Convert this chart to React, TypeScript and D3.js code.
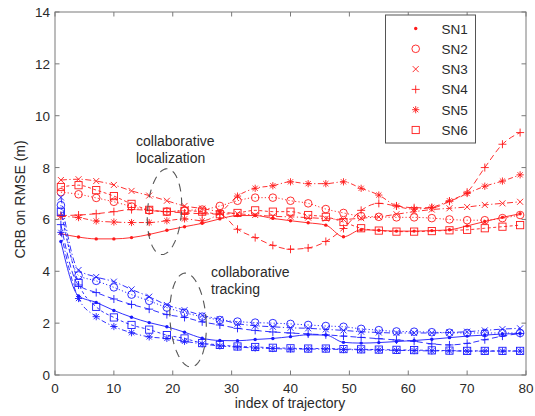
import React from "react";
import * as d3 from "d3";

const idx = [1,4,7,10,13,16,19,22,25,28,31,34,37,40,43,46,49,52,55,58,61,64,67,70,73,76,79];
const seriesNames = ["SN1","SN2","SN3","SN4","SN5","SN6"];
const xTicks = [0,10,20,30,40,50,60,70,80];
const yTicks = [0,2,4,6,8,10,12,14];

// collaborative localization (red)
const locSN1 = [5.45,5.32,5.25,5.25,5.3,5.42,5.58,5.72,5.85,6.02,6.15,6.15,6.04,5.95,5.87,5.78,5.33,5.6,5.58,5.55,5.55,5.57,5.6,5.75,5.92,6.08,6.22];
const locSN2 = [7.05,6.97,6.83,6.68,6.5,6.35,6.3,6.35,6.38,6.52,6.72,6.84,6.84,6.72,6.62,6.4,6.25,6.13,6.1,6.08,6.08,6.05,6.0,5.97,5.97,6.05,6.17];
const locSN3 = [7.52,7.55,7.48,7.33,7.1,6.92,6.72,6.52,6.42,6.3,6.22,6.17,6.12,6.1,6.07,6.03,6.0,6.05,6.1,6.2,6.3,6.38,6.43,6.48,6.56,6.62,6.68];
const locSN4 = [6.15,6.17,6.22,6.3,6.38,6.35,6.3,6.25,6.22,6.2,5.62,5.3,5.0,4.85,4.9,5.15,5.65,6.35,6.62,6.52,6.45,6.45,6.7,7.05,8.0,8.9,9.35];
const locSN5 = [6.12,6.07,5.94,5.9,5.88,5.88,5.95,6.02,5.95,6.25,6.9,7.2,7.3,7.45,7.38,7.38,7.45,7.2,6.94,6.52,6.4,6.47,6.72,7.0,7.28,7.48,7.72];
const locSN6 = [7.25,7.32,7.13,6.9,6.6,6.37,6.3,6.33,6.3,6.2,6.25,6.35,6.3,6.3,6.17,6.1,5.9,5.66,5.57,5.53,5.53,5.55,5.58,5.6,5.66,5.72,5.78];

// collaborative tracking (blue)
const trkSN1 = [5.15,3.05,2.8,2.49,2.23,2.02,1.86,1.65,1.42,1.33,1.32,1.37,1.41,1.48,1.55,1.54,1.26,1.23,1.25,1.29,1.33,1.38,1.44,1.5,1.54,1.58,1.6];
const trkSN2 = [6.55,3.84,3.63,3.38,3.1,2.86,2.6,2.4,2.25,2.12,2.06,2.02,2.0,1.97,1.93,1.89,1.86,1.78,1.73,1.68,1.67,1.65,1.63,1.62,1.62,1.62,1.62];
const trkSN3 = [6.85,4.05,3.78,3.6,3.3,3.02,2.7,2.5,2.3,2.15,1.98,1.9,1.86,1.82,1.8,1.76,1.72,1.67,1.64,1.62,1.62,1.62,1.64,1.67,1.72,1.77,1.8];
const trkSN4 = [5.8,3.47,3.18,2.93,2.72,2.54,2.33,2.22,2.05,1.93,1.8,1.72,1.66,1.62,1.58,1.55,1.5,1.45,1.4,1.35,1.3,1.2,1.16,1.22,1.36,1.5,1.6];
const trkSN5 = [5.5,2.95,2.25,1.87,1.63,1.47,1.41,1.3,1.2,1.12,1.08,1.04,1.02,1.0,1.0,1.0,0.98,0.97,0.96,0.95,0.94,0.93,0.93,0.92,0.92,0.92,0.92];
const trkSN6 = [6.3,3.55,2.63,2.22,1.93,1.75,1.54,1.41,1.23,1.16,1.1,1.08,1.05,1.03,1.02,1.02,1.0,0.99,0.98,0.97,0.96,0.95,0.94,0.93,0.93,0.93,0.93];

const locSeries = [locSN1, locSN2, locSN3, locSN4, locSN5, locSN6];
const trkSeries = [trkSN1, trkSN2, trkSN3, trkSN4, trkSN5, trkSN6];

const markerTypes = ["dot","circle","x","plus","star","square"];
const dashes = ["", "1.2,2.2", "6,2.5,1.2,2.5", "6,3.5", "5,2.5,1.2,2.5", "3,2.5"];

const W = 535, H = 416;
const M = { left: 55, right: 526, top: 12, bottom: 375 };
const RED = "#ff1a1a";
const BLUE = "#1a1aff";
const FONT = "'Liberation Sans', Arial, Helvetica, sans-serif";
const TXT = "#2a2a2a";
const FRAME = "#7a7a7a";

function Marker({ type, x, y, color }: { type: string; x: number; y: number; color: string }) {
  const sw = 0.9;
  if (type === "dot") return <circle cx={x} cy={y} r={1.7} fill={color} />;
  if (type === "circle") return <circle cx={x} cy={y} r={3.8} fill="none" stroke={color} strokeWidth={sw} />;
  if (type === "square") return <rect x={x - 3.6} y={y - 3.6} width={7.2} height={7.2} fill="none" stroke={color} strokeWidth={sw} />;
  if (type === "x") {
    const s = 3;
    return <path d={`M${x - s},${y - s}L${x + s},${y + s}M${x - s},${y + s}L${x + s},${y - s}`} stroke={color} strokeWidth={sw} fill="none" />;
  }
  if (type === "plus") {
    const s = 4;
    return <path d={`M${x - s},${y}L${x + s},${y}M${x},${y - s}L${x},${y + s}`} stroke={color} strokeWidth={sw} fill="none" />;
  }
  // star
  const s = 3.6, d = 2.6;
  return <path d={`M${x - s},${y}L${x + s},${y}M${x},${y - s}L${x},${y + s}M${x - d},${y - d}L${x + d},${y + d}M${x - d},${y + d}L${x + d},${y - d}`} stroke={color} strokeWidth={sw} fill="none" />;
}

export default function App() {
  const x = d3.scaleLinear().domain([0, 80]).range([M.left, M.right]);
  const y = d3.scaleLinear().domain([0, 14]).range([M.bottom, M.top]);
  const line = d3.line<number>().x((_, i) => x(idx[i])).y((v) => y(v)).curve(d3.curveMonotoneX);

  const groups = [
    { data: locSeries, color: RED },
    { data: trkSeries, color: BLUE },
  ];

  const ell = d3.line<number[]>().x((p) => p[0]).y((p) => p[1]).curve(d3.curveLinearClosed);
  const ellipse = (cx: number, cy: number, rx: number, ry: number, rot: number) => {
    const pts = d3.range(0, 360, 3).map((a) => {
      const t = (a * Math.PI) / 180;
      const ex = rx * Math.cos(t), ey = ry * Math.sin(t);
      const r = (rot * Math.PI) / 180;
      return [x(cx) + ex * Math.cos(r) - ey * Math.sin(r), y(cy) + ex * Math.sin(r) + ey * Math.cos(r)];
    });
    return ell(pts) || "";
  };

  const legendX = 385.5, legendY = 15, legendW = 90, legendH = 128;

  return (
    <svg width={W} height={H} style={{ position: "absolute", left: 0, top: 0, background: "#fff" }} fontFamily={FONT}>
      <rect x={0} y={0} width={W} height={H} fill="#fff" />
      {/* frame */}
      <rect x={M.left} y={M.top} width={M.right - M.left} height={M.bottom - M.top} fill="none" stroke={FRAME} strokeWidth={1} />
      {xTicks.map((t) => (
        <g key={"xt" + t}>
          <line x1={x(t)} x2={x(t)} y1={M.bottom} y2={M.bottom - 4.5} stroke={FRAME} />
          <line x1={x(t)} x2={x(t)} y1={M.top} y2={M.top + 4.5} stroke={FRAME} />
          <text x={x(t)} y={393} textAnchor="middle" fontSize={13.5} fill={TXT}>{t}</text>
        </g>
      ))}
      {yTicks.map((t) => (
        <g key={"yt" + t}>
          <line x1={M.left} x2={M.left + 4.5} y1={y(t)} y2={y(t)} stroke={FRAME} />
          <line x1={M.right} x2={M.right - 4.5} y1={y(t)} y2={y(t)} stroke={FRAME} />
          <text x={50} y={y(t) + 5} textAnchor="end" fontSize={13.5} fill={TXT}>{t}</text>
        </g>
      ))}
      <text x={290} y={408} textAnchor="middle" fontSize={14} fill={TXT}>index of trajectory</text>
      <text transform={`translate(25,${(M.top + M.bottom) / 2 + 6}) rotate(-90)`} textAnchor="middle" fontSize={14} fill={TXT}>CRB on RMSE (m)</text>

      {/* series */}
      {groups.map((g, gi) =>
        g.data.map((s, si) => (
          <g key={`s${gi}-${si}`}>
            <path d={line(s) || ""} fill="none" stroke={g.color} strokeWidth={0.9} strokeDasharray={dashes[si]} />
            {s.map((v, i) => (
              <Marker key={i} type={markerTypes[si]} x={x(idx[i])} y={y(v)} color={g.color} />
            ))}
          </g>
        ))
      )}

      {/* annotations */}
      <path d={ellipse(18.6, 6.3, 17, 43, 4)} fill="none" stroke="#555" strokeWidth={1.1} strokeDasharray="8,6" />
      <path d={ellipse(22.6, 2.12, 18, 47, -4)} fill="none" stroke="#555" strokeWidth={1.1} strokeDasharray="8,6" />
      <text x={136} y={146} fontSize={14} fill={TXT}>collaborative</text>
      <text x={136} y={163} fontSize={14} fill={TXT}>localization</text>
      <text x={211} y={277} fontSize={14} fill={TXT}>collaborative</text>
      <text x={211} y={294} fontSize={14} fill={TXT}>tracking</text>

      {/* legend */}
      <rect x={legendX} y={legendY} width={legendW} height={legendH} fill="#fff" stroke="#555" strokeWidth={1} />
      {seriesNames.map((n, i) => (
        <g key={n}>
          <Marker type={markerTypes[i]} x={415.7} y={28.5 + i * 20.3} color={RED} />
          <text x={441.5} y={28.5 + i * 20.3 + 5} fontSize={13.5} fill={TXT}>{n}</text>
        </g>
      ))}
    </svg>
  );
}
